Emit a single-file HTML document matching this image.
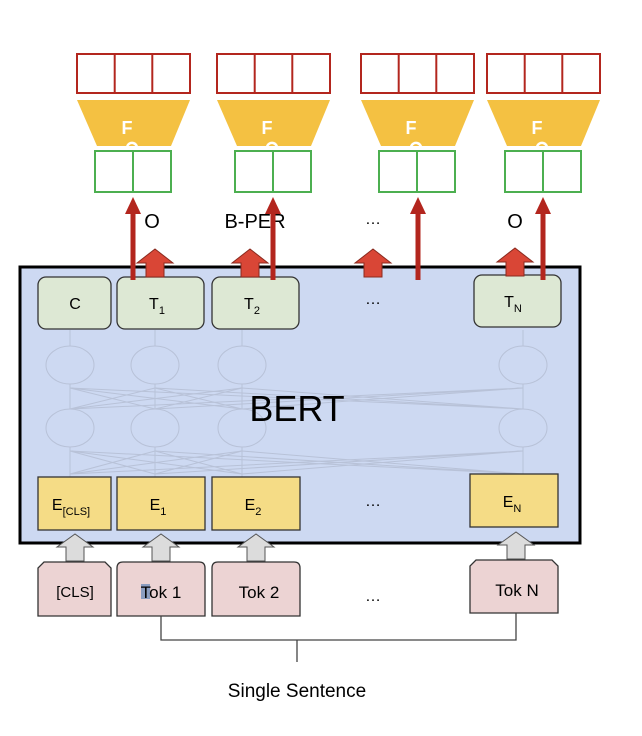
<!DOCTYPE html>
<html><head><meta charset="utf-8"><style>body{margin:0;background:#fff}svg{display:block}text{font-family:"Liberation Sans",sans-serif}</style></head><body>
<svg width="642" height="736" viewBox="0 0 642 736" xmlns="http://www.w3.org/2000/svg">
<defs>
<g id="head">
<rect x="0" y="0" width="113" height="39" fill="#fff" stroke="#b3261e" stroke-width="2"/>
<line x1="37.7" y1="0" x2="37.7" y2="39" stroke="#b3261e" stroke-width="2"/>
<line x1="75.3" y1="0" x2="75.3" y2="39" stroke="#b3261e" stroke-width="2"/>
<polygon points="0,46 113,46 94,92 20,92" fill="#f4c142"/>
<text x="50" y="80" font-size="18" font-weight="bold" fill="#fff" text-anchor="middle">F</text>
<rect x="18" y="97" width="76" height="41" fill="#fff" stroke="#4caf50" stroke-width="2"/>
<line x1="56" y1="97" x2="56" y2="138" stroke="#4caf50" stroke-width="2"/>
<path d="M50,93 a5,5 0 0 1 10,2" fill="none" stroke="#fff" stroke-width="2.5"/>
</g>
</defs>
<use href="#head" x="77" y="54"/>
<use href="#head" x="217" y="54"/>
<use href="#head" x="361" y="54"/>
<use href="#head" x="487" y="54"/>
<text x="152" y="228" font-size="20" text-anchor="middle">O</text>
<text x="255" y="228" font-size="20" text-anchor="middle">B-PER</text>
<text x="373" y="224" font-size="16" text-anchor="middle">…</text>
<text x="515" y="228" font-size="20" text-anchor="middle">O</text>
<rect x="20" y="267" width="560" height="276" fill="#cdd9f2" stroke="#000" stroke-width="3"/>
<g stroke="#b8c2d8" fill="none" stroke-width="1">
<ellipse cx="70" cy="365" rx="24" ry="19"/><ellipse cx="155" cy="365" rx="24" ry="19"/><ellipse cx="242" cy="365" rx="24" ry="19"/><ellipse cx="523" cy="365" rx="24" ry="19"/>
<ellipse cx="70" cy="428" rx="24" ry="19"/><ellipse cx="155" cy="428" rx="24" ry="19"/><ellipse cx="242" cy="428" rx="24" ry="19"/><ellipse cx="523" cy="428" rx="24" ry="19"/>
<path d="M70,330V346M155,330V346M242,330V346M523,330V346M70,384V409M155,384V409M242,384V409M523,384V409M70,447V477M155,447V477M242,447V477M523,447V474"/>
<path d="M70,409L155,388M70,409L242,388M70,409L523,388M155,409L70,388M155,409L242,388M155,409L523,388M242,409L70,388M242,409L155,388M242,409L523,388M523,409L70,388M523,409L155,388M523,409L242,388"/>
<path d="M70,474L155,451M70,474L242,451M70,474L523,451M155,474L70,451M155,474L242,451M155,474L523,451M242,474L70,451M242,474L155,451M242,474L523,451M523,474L70,451M523,474L155,451M523,474L242,451"/>
</g>
<text x="297" y="421" font-size="36" text-anchor="middle">BERT</text>
<g fill="#dde8d4" stroke="#333" stroke-width="1.3">
<rect x="38" y="277" width="73" height="52" rx="8"/>
<rect x="117" y="277" width="87" height="52" rx="8"/>
<rect x="212" y="277" width="87" height="52" rx="8"/>
<rect x="474" y="275" width="87" height="52" rx="8"/>
</g>
<g font-size="16" text-anchor="middle">
<text x="75" y="309">C</text>
<text x="157" y="309">T<tspan font-size="11" dy="5">1</tspan></text>
<text x="252" y="309">T<tspan font-size="11" dy="5">2</tspan></text>
<text x="513" y="307">T<tspan font-size="11" dy="5">N</tspan></text>
<text x="373" y="304">…</text>
<text x="373" y="506">…</text>
<text x="373" y="601">…</text>
</g>
<g fill="#d94636" stroke="#8a2a1f" stroke-width="1">
<polygon points="146,277 164,277 164,263 173,263 155,249 137,263 146,263"/>
<polygon points="241,277 259,277 259,263 268,263 250,249 232,263 241,263"/>
<polygon points="364,277 382,277 382,263 391,263 373,249 355,263 364,263"/>
<polygon points="506,276 524,276 524,262 533,262 515,248 497,262 506,262"/>
</g>
<g stroke="#b3261e" stroke-width="5">
<line x1="133" y1="280" x2="133" y2="210"/><line x1="273" y1="280" x2="273" y2="210"/><line x1="418" y1="280" x2="418" y2="210"/><line x1="543" y1="280" x2="543" y2="210"/>
</g>
<g fill="#b3261e">
<polygon points="133,197 125,214 141,214"/><polygon points="273,197 265,214 281,214"/><polygon points="418,197 410,214 426,214"/><polygon points="543,197 535,214 551,214"/>
</g>
<g fill="#f5dc86" stroke="#333" stroke-width="1.3">
<rect x="38" y="477" width="73" height="53"/>
<rect x="117" y="477" width="88" height="53"/>
<rect x="212" y="477" width="88" height="53"/>
<rect x="470" y="474" width="88" height="53"/>
</g>
<g font-size="16" text-anchor="middle">
<text x="71" y="510">E<tspan font-size="11" dy="5">[CLS]</tspan></text>
<text x="158" y="510">E<tspan font-size="11" dy="5">1</tspan></text>
<text x="253" y="510">E<tspan font-size="11" dy="5">2</tspan></text>
<text x="512" y="507">E<tspan font-size="11" dy="5">N</tspan></text>
</g>
<g fill="#dcdcdc" stroke="#555" stroke-width="1">
<polygon points="66,561 84,561 84,547 93,547 75,534 57,547 66,547"/>
<polygon points="152,561 170,561 170,547 179,547 161,534 143,547 152,547"/>
<polygon points="247,561 265,561 265,547 274,547 256,534 238,547 247,547"/>
<polygon points="507,559 525,559 525,545 534,545 516,532 498,545 507,545"/>
</g>
<g fill="#ecd3d3" stroke="#333" stroke-width="1.3">
<path d="M44,562H105L111,568V616H38V568Z"/>
<path d="M123,562H199Q205,562 205,568V616H117V568Q117,562 123,562Z"/>
<path d="M218,562H294Q300,562 300,568V616H212V568Q212,562 218,562Z"/>
<path d="M476,560H552L558,566V613H470V566Z"/>
</g>
<rect x="141" y="584" width="9" height="15" fill="#8b9dc0"/>
<g font-size="17" text-anchor="middle">
<text x="75" y="597" font-size="15">[CLS]</text>
<text x="161" y="598">Tok 1</text>
<text x="259" y="598">Tok 2</text>
<text x="517" y="596">Tok N</text>
</g>
<path d="M161,616V640H516V613M297,640V662" fill="none" stroke="#444" stroke-width="1.3"/>
<text x="297" y="697" font-size="19" text-anchor="middle">Single Sentence</text>
</svg>
</body></html>
